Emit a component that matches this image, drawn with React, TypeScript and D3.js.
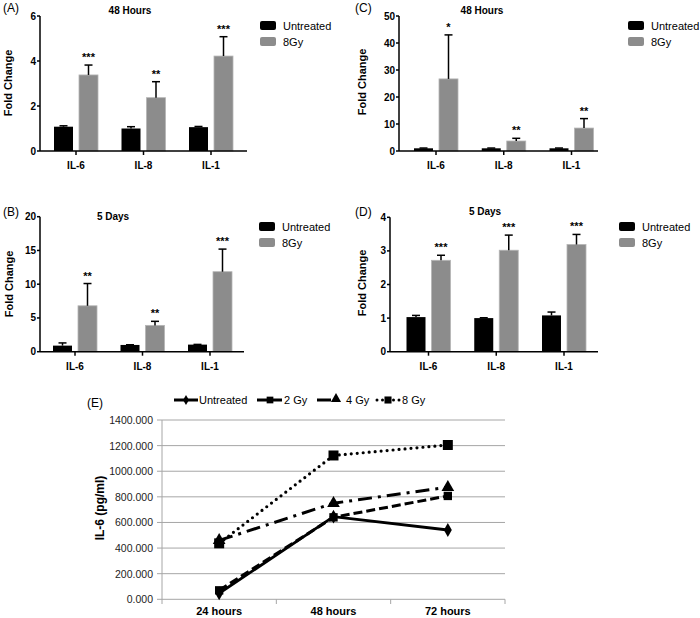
import React from "react";
import * as d3 from "d3";

const FONT = "'Liberation Sans', Arial, Helvetica, sans-serif";

// Bar panels
const categories = ["IL-6", "IL-8", "IL-1"];
const seriesNames = ["Untreated", "8Gy"];

const aUntreated = [1.08, 1.0, 1.06];
const aUntreatedErr = [0.04, 0.08, 0.03];
const a8Gy = [3.38, 2.37, 4.22];
const a8GyErr = [0.44, 0.71, 0.86];
const aSig = ["***", "**", "***"];
const aTicks = [0, 2, 4, 6];

const cUntreated = [1.0, 1.0, 1.0];
const cUntreatedErr = [0.1, 0.1, 0.1];
const c8Gy = [26.7, 3.7, 8.5];
const c8GyErr = [16.3, 1.0, 3.5];
const cSig = ["*", "**", "**"];
const cTicks = [0, 10, 20, 30, 40, 50];

const bUntreated = [0.9, 1.0, 1.05];
const bUntreatedErr = [0.4, 0.03, 0.03];
const b8Gy = [6.8, 3.9, 11.85];
const b8GyErr = [3.3, 0.6, 3.35];
const bSig = ["**", "**", "***"];
const bTicks = [0, 5, 10, 15, 20];

const dUntreated = [1.03, 1.0, 1.08];
const dUntreatedErr = [0.05, 0.01, 0.1];
const d8Gy = [2.72, 3.02, 3.19];
const d8GyErr = [0.15, 0.45, 0.3];
const dSig = ["***", "***", "***"];
const dTicks = [0, 1, 2, 3, 4];

// Line panel
const timepoints = ["24 hours", "48 hours", "72 hours"];
const eUntreated = [47, 645, 541];
const e2Gy = [70, 640, 807];
const e4Gy = [460, 750, 875];
const e8Gy = [437, 1123, 1205];
const eTicks = [0, 200, 400, 600, 800, 1000, 1200, 1400];
const eLegend = ["Untreated", "2 Gy", "4 Gy", "8 Gy"];

type BarProps = {
  panel: string; title: string; titleX: number; titleY: number; panelX: number; panelY: number;
  u: number[]; uErr: number[]; g: number[]; gErr: number[]; sig: string[];
  axisX0: number; axisX1: number; cx0: number; cx1: number;
  yBottom: number; yTop: number; yMax: number; ticks: number[];
  legendX: number; legendY: number; yLabelX: number; yLabelY: number;
};

function BarPanel(p: BarProps) {
  const x = d3.scalePoint<string>().domain(categories).range([p.cx0, p.cx1]);
  const y = d3.scaleLinear().domain([0, p.yMax]).range([p.yBottom, p.yTop]);
  const bw = 19;
  const errBar = (cx: number, v: number, e: number, key: string) => (
    <g key={key} stroke="#000" strokeWidth={1.5}>
      <line x1={cx} x2={cx} y1={y(v)} y2={y(v + e)} />
      <line x1={cx - 4} x2={cx + 4} y1={y(v + e)} y2={y(v + e)} />
    </g>
  );
  return (
    <g fontFamily={FONT}>
      <text x={p.panelX} y={p.panelY} fontSize={12}>{p.panel}</text>
      <text x={p.titleX} y={p.titleY} fontSize={10} fontWeight="bold" textAnchor="middle">{p.title}</text>
      <text transform={`translate(${p.yLabelX},${p.yLabelY}) rotate(-90)`} fontSize={11} fontWeight="bold" textAnchor="middle">Fold Change</text>
      {categories.map((c, i) => {
        const cx = x(c)!;
        return (
          <g key={c}>
            <rect x={cx - 3 - bw} y={y(p.u[i])} width={bw} height={p.yBottom - y(p.u[i])} fill="#000" />
            <rect x={cx + 3} y={y(p.g[i])} width={bw} height={p.yBottom - y(p.g[i])} fill="#8c8c8c" stroke="#b5b5b5" strokeWidth={0.8} />
            {errBar(cx - 3 - bw / 2, p.u[i], p.uErr[i], "u")}
            {errBar(cx + 3 + bw / 2, p.g[i], p.gErr[i], "g")}
            <text x={cx + 3 + bw / 2} y={y(p.g[i] + p.gErr[i]) - 4} fontSize={11} fontWeight="bold" textAnchor="middle">{p.sig[i]}</text>
            <line x1={cx} x2={cx} y1={p.yBottom} y2={p.yBottom + 4} stroke="#000" strokeWidth={1.5} />
            <text x={cx} y={p.yBottom + 18} fontSize={10} fontWeight="bold" textAnchor="middle">{c}</text>
          </g>
        );
      })}
      <line x1={p.axisX0} x2={p.axisX0} y1={p.yTop} y2={p.yBottom} stroke="#000" strokeWidth={1.5} />
      <line x1={p.axisX0} x2={p.axisX1} y1={p.yBottom} y2={p.yBottom} stroke="#000" strokeWidth={1.5} />
      {p.ticks.map((t) => (
        <g key={t}>
          <line x1={p.axisX0 - 3} x2={p.axisX0} y1={y(t)} y2={y(t)} stroke="#000" strokeWidth={1.5} />
          <text x={p.axisX0 - 4} y={y(t) + 3.5} fontSize={10} fontWeight="bold" textAnchor="end">{t}</text>
        </g>
      ))}
      {seriesNames.map((s, i) => (
        <g key={s}>
          <rect x={p.legendX} y={p.legendY + i * 16} width={16} height={9} rx={2} fill={i === 0 ? "#000" : "#8c8c8c"} />
          <text x={p.legendX + 23} y={p.legendY + i * 16 + 8.5} fontSize={11}>{s}</text>
        </g>
      ))}
    </g>
  );
}

function LinePanel() {
  const x = d3.scaleBand<string>().domain(timepoints).range([162, 505]);
  const y = d3.scaleLinear().domain([0, 1400]).range([599.3, 420]);
  const cx = (t: string) => x(t)! + x.bandwidth() / 2;
  const line = d3.line<number>().x((_, i) => cx(timepoints[i])).y((v) => y(v));
  const series = [
    { name: eLegend[3], data: e8Gy, dash: "0 6", width: 3.2, cap: "round", sym: d3.symbolSquare, size: 100 },
    { name: eLegend[2], data: e4Gy, dash: "14 6 3 6", width: 3, cap: "butt", sym: d3.symbolTriangle, size: 70 },
    { name: eLegend[1], data: e2Gy, dash: "9 4", width: 3, cap: "butt", sym: d3.symbolSquare, size: 70 },
    { name: eLegend[0], data: eUntreated, dash: undefined, width: 2.8, cap: "butt", sym: d3.symbolDiamond, size: 55 },
  ];
  const sym = (s: d3.SymbolType, size: number) => d3.symbol().type(s).size(size)()!;
  return (
    <g fontFamily={FONT}>
      <text x={87} y={407} fontSize={12}>(E)</text>
      {eTicks.map((t) => (
        <g key={t}>
          <line x1={162} x2={505} y1={y(t)} y2={y(t)} stroke="#a6a6a6" strokeWidth={1} />
          <line x1={157} x2={162} y1={y(t)} y2={y(t)} stroke="#a6a6a6" strokeWidth={1} />
          <text x={153} y={y(t) + 4} fontSize={10.5} textAnchor="end" fill="#222">{d3.format(".3f")(t)}</text>
        </g>
      ))}
      <line x1={162} x2={162} y1={420} y2={599.3} stroke="#a6a6a6" strokeWidth={1} />
      {[0, 1, 2, 3].map((i) => {
        const xx = 162 + i * x.step();
        return <line key={i} x1={xx} x2={xx} y1={599.3} y2={604} stroke="#a6a6a6" strokeWidth={1} />;
      })}
      {timepoints.map((t) => (
        <text key={t} x={cx(t)} y={615} fontSize={11} fontWeight="bold" textAnchor="middle">{t}</text>
      ))}
      <text transform="translate(103.5,508) rotate(-90)" fontSize={12} fontWeight="bold" textAnchor="middle">IL-6 (pg/ml)</text>
      {series.map((s) => (
        <g key={s.name}>
          <path d={line(s.data)!} fill="none" stroke="#000" strokeWidth={s.width} strokeDasharray={s.dash} strokeLinecap={s.cap as any} />
          {s.data.map((v, i) => (
            <path key={i} d={sym(s.sym, s.size)} transform={`translate(${cx(timepoints[i])},${y(v)})`} fill="#000" />
          ))}
        </g>
      ))}
      {/* legend */}
      <g>
        <line x1={174} x2={198} y1={400} y2={400} stroke="#000" strokeWidth={3} />
        <path d={sym(d3.symbolDiamond, 30)} transform="translate(186,400)" fill="#000" />
        <text x={199} y={404} fontSize={11}>{eLegend[0]}</text>
        <line x1={257} x2={282} y1={400} y2={400} stroke="#000" strokeWidth={3} />
        <path d={sym(d3.symbolSquare, 45)} transform="translate(270,400)" fill="#000" />
        <text x={284} y={404} fontSize={11}>{eLegend[1]}</text>
        <line x1={317} x2={331} y1={400} y2={400} stroke="#000" strokeWidth={3} />
        <path d={sym(d3.symbolTriangle, 45)} transform="translate(336,399)" fill="#000" />
        <text x={346} y={404} fontSize={11}>{eLegend[2]}</text>
        <line x1={377} x2={400} y1={400} y2={400} stroke="#000" strokeWidth={3} strokeDasharray="0 5.5" strokeLinecap="round" />
        <path d={sym(d3.symbolSquare, 50)} transform="translate(388,400)" fill="#000" />
        <text x={402} y={404} fontSize={11}>{eLegend[3]}</text>
      </g>
    </g>
  );
}

export default function App() {
  return (
    <svg width={700} height={618} style={{ position: "absolute", left: 0, top: 0, background: "#fff" }}>
      <rect width={700} height={618} fill="#fff" />
      <BarPanel panel="(A)" title="48 Hours" titleX={130} titleY={14} panelX={3} panelY={12}
        u={aUntreated} uErr={aUntreatedErr} g={a8Gy} gErr={a8GyErr} sig={aSig}
        axisX0={40} axisX1={247} cx0={76} cx1={211} yBottom={151} yTop={16} yMax={6} ticks={aTicks}
        legendX={260} legendY={21} yLabelX={12} yLabelY={83} />
      <BarPanel panel="(C)" title="48 Hours" titleX={482} titleY={14} panelX={355} panelY={12}
        u={cUntreated} uErr={cUntreatedErr} g={c8Gy} gErr={c8GyErr} sig={cSig}
        axisX0={399} axisX1={598} cx0={436} cx1={571.5} yBottom={151} yTop={16} yMax={50} ticks={cTicks}
        legendX={628} legendY={21} yLabelX={366} yLabelY={82} />
      <BarPanel panel="(B)" title="5 Days" titleX={113} titleY={220} panelX={3} panelY={216}
        u={bUntreated} uErr={bUntreatedErr} g={b8Gy} gErr={b8GyErr} sig={bSig}
        axisX0={40} axisX1={244} cx0={75} cx1={210} yBottom={351.7} yTop={216.7} yMax={20} ticks={bTicks}
        legendX={259} legendY={222} yLabelX={13} yLabelY={284} />
      <BarPanel panel="(D)" title="5 Days" titleX={485} titleY={215} panelX={355} panelY={216}
        u={dUntreated} uErr={dUntreatedErr} g={d8Gy} gErr={d8GyErr} sig={dSig}
        axisX0={390} axisX1={598} cx0={428.5} cx1={564} yBottom={351.7} yTop={217.3} yMax={4} ticks={dTicks}
        legendX={619} legendY={222} yLabelX={366} yLabelY={283} />
      <LinePanel />
    </svg>
  );
}
